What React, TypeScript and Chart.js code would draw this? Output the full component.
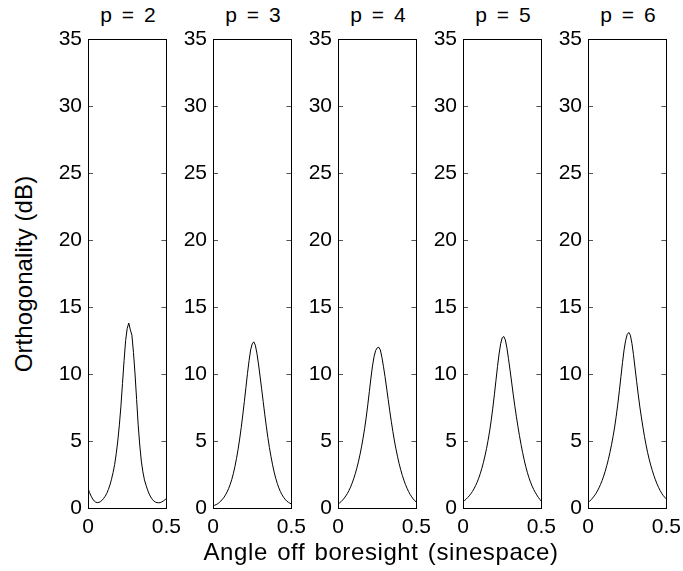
import React, { useEffect, useRef } from "react";
import { Chart, registerables } from "chart.js";

Chart.register(...registerables);

// Angle off boresight (sinespace)
const angles = [
  0, 0.01, 0.02, 0.03, 0.04, 0.05, 0.06, 0.07, 0.08, 0.09,
  0.1, 0.11, 0.12, 0.13, 0.14, 0.15, 0.16, 0.17, 0.18, 0.19,
  0.2, 0.21, 0.22, 0.23, 0.24, 0.25, 0.26, 0.27, 0.28, 0.29,
  0.3, 0.31, 0.32, 0.33, 0.34, 0.35, 0.36, 0.37, 0.38, 0.39,
  0.4, 0.41, 0.42, 0.43, 0.44, 0.45, 0.46, 0.47, 0.48, 0.49, 0.5,
];

// Orthogonality (dB) for each p
const orthP2 = [
  1.45, 1.15, 0.88, 0.67, 0.52, 0.43, 0.4, 0.42, 0.48, 0.58,
  0.72, 0.88, 1.1, 1.38, 1.72, 2.15, 2.65, 3.25, 4.05, 5.0,
  6.2, 7.6, 9.3, 11.0, 12.5, 13.4, 13.8, 13.3, 12.9, 11.6,
  10.0, 8.1, 6.2, 4.7, 3.5, 2.7, 2.1, 1.7, 1.35, 1.05,
  0.82, 0.65, 0.52, 0.44, 0.4, 0.39, 0.4, 0.45, 0.52, 0.6, 0.72,
];

const orthP3 = [
  0.17, 0.2, 0.25, 0.32, 0.41, 0.52, 0.65, 0.8, 0.98, 1.2,
  1.46, 1.77, 2.14, 2.58, 3.1, 3.7, 4.38, 5.15, 6.0, 6.95,
  7.95, 9.0, 10.05, 11.0, 11.8, 12.25, 12.4, 12.15, 11.55, 10.75,
  9.85, 8.9, 7.95, 7.0, 6.1, 5.25, 4.5, 3.82, 3.22, 2.68,
  2.22, 1.83, 1.5, 1.22, 0.99, 0.8, 0.65, 0.52, 0.43, 0.36, 0.3,
];

const orthP4 = [
  0.3, 0.38, 0.48, 0.6, 0.74, 0.9, 1.09, 1.31, 1.56, 1.85,
  2.18, 2.55, 2.97, 3.44, 3.97, 4.56, 5.22, 5.95, 6.78, 7.7,
  8.7, 9.7, 10.6, 11.3, 11.75, 11.95, 12.0, 11.8, 11.25, 10.55,
  9.8, 8.95, 8.1, 7.25, 6.45, 5.7, 5.0, 4.38, 3.82, 3.3,
  2.85, 2.44, 2.08, 1.76, 1.48, 1.23, 1.01, 0.83, 0.67, 0.54, 0.43,
];

const orthP5 = [
  0.47, 0.56, 0.66, 0.78, 0.91, 1.06, 1.23, 1.43, 1.66, 1.92,
  2.22, 2.56, 2.95, 3.39, 3.88, 4.43, 5.05, 5.75, 6.55, 7.45,
  8.45, 9.5, 10.55, 11.5, 12.25, 12.7, 12.8, 12.55, 11.95, 11.15,
  10.3, 9.4, 8.5, 7.65, 6.85, 6.1, 5.4, 4.75, 4.15, 3.6,
  3.1, 2.67, 2.28, 1.95, 1.65, 1.4, 1.18, 0.98, 0.8, 0.64, 0.5,
];

const orthP6 = [
  0.4, 0.5, 0.62, 0.75, 0.9, 1.07, 1.27, 1.5, 1.76, 2.05,
  2.38, 2.75, 3.17, 3.63, 4.15, 4.72, 5.35, 6.05, 6.85, 7.75,
  8.75, 9.8, 10.85, 11.8, 12.5, 12.95, 13.1, 12.9, 12.3, 11.45,
  10.45, 9.45, 8.5, 7.6, 6.8, 6.05, 5.35, 4.72, 4.15, 3.65,
  3.2, 2.8, 2.43, 2.1, 1.8, 1.54, 1.3, 1.1, 0.93, 0.79, 0.67,
];

const panelTitles = ["p = 2", "p = 3", "p = 4", "p = 5", "p = 6"];
const panelSeries = [orthP2, orthP3, orthP4, orthP5, orthP6];

const yAxisTitle = "Orthogonality (dB)";
const xAxisTitle = "Angle off boresight (sinespace)";

const FONT = "'Liberation Sans', Arial, Helvetica, sans-serif";

const framePlugin = {
  id: "frameAndTicks",
  afterDatasetsDraw(chart: any) {
    const { ctx, chartArea } = chart;
    const { left, right, top, bottom } = chartArea;
    const yScale = chart.scales.y;
    ctx.save();
    ctx.strokeStyle = "#555";
    ctx.lineWidth = 1;
    yScale.ticks.forEach((t: any) => {
      const py = Math.round(yScale.getPixelForValue(t.value)) + 0.5;
      ctx.beginPath();
      ctx.moveTo(left, py);
      ctx.lineTo(left + 5, py);
      ctx.moveTo(right, py);
      ctx.lineTo(right - 5, py);
      ctx.stroke();
    });
    ctx.strokeStyle = "#000";
    ctx.lineWidth = 1;
    ctx.strokeRect(Math.round(left) + 0.5, Math.round(top) + 0.5, Math.round(right - left), Math.round(bottom - top));
    ctx.restore();
  },
};

function Panel({ index }: { index: number }) {
  const ref = useRef<HTMLCanvasElement>(null);
  useEffect(() => {
    const values = panelSeries[index];
    const chart = new Chart(ref.current as HTMLCanvasElement, {
      type: "line",
      data: {
        datasets: [
          {
            data: angles.map((x, i) => ({ x, y: values[i] })),
            borderColor: "#000",
            borderWidth: 1,
            pointRadius: 0,
            tension: 0,
            fill: false,
          },
        ],
      },
      options: {
        animation: false,
        responsive: false,
        maintainAspectRatio: false,
        devicePixelRatio: 1,
        events: [],
        layout: { padding: { left: 8, right: 20, top: 39, bottom: 0 } },
        plugins: {
          legend: { display: false },
          tooltip: { enabled: false },
          title: { display: false },
        },
        scales: {
          x: {
            type: "linear",
            min: 0,
            max: 0.5,
            grid: { display: false, drawTicks: false },
            border: { display: false },
            ticks: {
              stepSize: 0.5,
              padding: 7,
              color: "#000",
              maxRotation: 0,
              autoSkip: false,
              font: { family: FONT, size: 21 },
            },
            afterFit: (s: any) => {
              s.height = 40;
            },
          },
          y: {
            type: "linear",
            min: 0,
            max: 35,
            grid: { display: false, drawTicks: false },
            border: { display: false },
            ticks: {
              stepSize: 5,
              padding: 6,
              color: "#000",
              font: { family: FONT, size: 21 },
            },
            afterFit: (s: any) => {
              s.width = 40;
            },
          },
        },
      } as any,
      plugins: [framePlugin],
    });
    return () => chart.destroy();
  }, [index]);
  return (
    <canvas
      ref={ref}
      width={148}
      height={548}
      style={{ position: "absolute", left: 40 + 125 * index, top: 0, width: 148, height: 548 }}
    />
  );
}

export default function App() {
  return (
    <div
      style={{
        position: "absolute",
        left: 0,
        top: 0,
        width: 683,
        height: 571,
        background: "#fff",
        overflow: "hidden",
        fontFamily: FONT,
        color: "#000",
      }}
    >
      {panelTitles.map((t, i) => (
        <div
          key={t}
          style={{
            position: "absolute",
            left: 88 + 125 * i - 40,
            top: 3,
            width: 160,
            textAlign: "center",
            fontSize: 21,
            lineHeight: "24px",
            wordSpacing: 4,
            whiteSpace: "pre",
          }}
        >
          {t}
        </div>
      ))}
      {panelTitles.map((_, i) => (
        <Panel key={i} index={i} />
      ))}
      <div
        style={{
          position: "absolute",
          left: 0,
          top: 538,
          width: 762,
          textAlign: "center",
          fontSize: 24,
          lineHeight: "28px",
          letterSpacing: 0.6,
          wordSpacing: 2,
          whiteSpace: "nowrap",
        }}
      >
        {xAxisTitle}
      </div>
      <div
        style={{
          position: "absolute",
          left: 24 - 150,
          top: 274 - 14,
          width: 300,
          height: 28,
          textAlign: "center",
          fontSize: 24,
          lineHeight: "28px",
          letterSpacing: 0.1,
          whiteSpace: "nowrap",
          transform: "rotate(-90deg)",
          transformOrigin: "50% 50%",
        }}
      >
        {yAxisTitle}
      </div>
    </div>
  );
}
